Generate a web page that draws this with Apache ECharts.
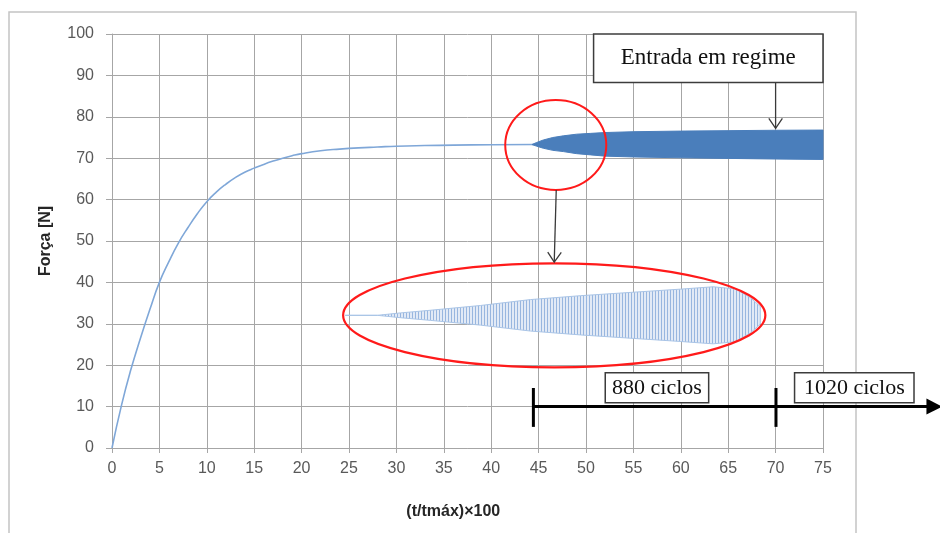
<!DOCTYPE html>
<html><head><meta charset="utf-8">
<script src="https://cdn.jsdelivr.net/npm/echarts@6/dist/echarts.min.js"></script>
<style>html,body{margin:0;padding:0;background:#fff}#c{width:940px;height:533px}</style>
</head><body><div id="c"></div>
<script>
// ---- data ----
const xMin = 0, xMax = 75, xStep = 5;
const yMin = 0, yMax = 100, yStep = 10;

// ramp-up curve (t/tmax*100, Força N)
const curveT = [0,1,2,3,4,5,6,7,8,9,10,11,12,13,14,15,16,17,18,19,20,22,24,26,28,30,33,36,40,44.5];
const curveF = [0,10.3,19,26.5,33.5,40,45,49.5,53.2,56.6,59.5,61.8,63.7,65.3,66.6,67.6,68.5,69.3,70,70.6,71.1,71.8,72.2,72.5,72.7,72.9,73.05,73.15,73.25,73.3];

// oscillation envelope (dense cycles shown as a band)
const bandT     = [44.3,44.8,45.5,46.5,47.6,49,50.5,52,55,60,65,70,75];
const bandUpper = [73.3,73.8,74.4,75.0,75.4,75.8,76.0,76.2,76.4,76.55,76.65,76.75,76.8];
const bandLower = [73.3,72.9,72.4,71.9,71.6,71.1,70.8,70.5,70.3,70.1,69.95,69.8,69.7];

// magnified inset: position along the zoom window (%) and relative amplitude
const insetPos = [0,7.7,13.2,20.4,32.4,44.4,56.4,68.3,80.3,88.2,93.5,97.1,99.5];
const insetAmp = [0,0,0.08,0.17,0.33,0.53,0.66,0.77,0.88,0.96,0.89,0.6,0.3];

// annotation anchors in data coordinates
const focusCircle  = {t:46.81, F:73.19, rt:5.33, rF:10.87};
const insetEllipse = {t:46.65, F:32.05, rt:22.27, rF:12.56};
const insetSpanT   = [24.6, 68.6];
const arrowZoom    = [[46.86,62.3],[46.65,44.9]];
const regimeBox    = {t0:50.8, t1:75.0, F0:100, F1:88.3, text:'Entrada em regime'};
const arrowRegime  = [[70.0,88.3],[70.0,77.2]];
const timelineF = 10.0, timelineT = [44.45, 87.6], timelineTicks = [44.45, 70.04], tickF = [14.5, 5.1];
const cycleBoxes = [
  {t0:52.03, t1:62.94, F0:18.2, F1:10.9, text:'880 ciclos'},
  {t0:72.0,  t1:84.6,  F0:18.2, F1:10.9, text:'1020 ciclos'}
];
const xName = '(t/tmáx)×100', xNameT = 36;
const yName = 'Força [N]';

// ---- chart ----
const pc = document.createElement('canvas');
pc.width = 3; pc.height = 2;
const pctx = pc.getContext('2d');
pctx.fillStyle = '#e2eaf6'; pctx.fillRect(0,0,3,2);
pctx.fillStyle = '#98b6df'; pctx.fillRect(1,0,1,2);

const gridColor = '#a6a6a6';
const labelFont = {color:'#595959', fontSize:16, fontFamily:'Liberation Sans'};

function envelopeSeries(xi, yi, pts, fill, stroke){
  return {
    type:'custom', xAxisIndex:xi, yAxisIndex:yi, z:4,
    data: pts, encode:{x:0, y:[1,2]},
    renderItem: function(params, api){
      if (params.dataIndex !== 0) return null;
      const up = pts.map(p => api.coord([p[0], p[1]]));
      const lo = pts.map(p => api.coord([p[0], p[2]])).reverse();
      return {type:'polygon', shape:{points: up.concat(lo)},
              style:{fill: fill, stroke: stroke, lineWidth:1}};
    }
  };
}

const chart = echarts.init(document.getElementById('c'), null, {renderer:'canvas'});
const option = {
  animation:false,
  grid:[
    {left:112, right:117, top:34, bottom:85},
    {left:345, top:264, width:417, height:104}
  ],
  xAxis:[
    {type:'value', gridIndex:0, min:xMin, max:xMax, interval:xStep,
     axisLine:{show:true, lineStyle:{color:gridColor, width:1}},
     axisTick:{show:true, length:5, lineStyle:{color:gridColor}},
     splitLine:{show:true, lineStyle:{color:gridColor, width:1}},
     axisLabel:Object.assign({margin:13}, labelFont)},
    {type:'value', gridIndex:1, min:0, max:100, show:false}
  ],
  yAxis:[
    {type:'value', gridIndex:0, min:yMin, max:yMax, interval:yStep,
     axisLine:{show:true, lineStyle:{color:gridColor, width:1}},
     axisTick:{show:true, length:6, lineStyle:{color:gridColor}},
     splitLine:{show:true, lineStyle:{color:gridColor, width:1}},
     axisLabel:Object.assign({margin:18}, labelFont),
     name:yName, nameLocation:'middle', nameGap:58, nameRotate:90,
     nameTextStyle:{color:'#262626', fontSize:16, fontWeight:'bold', fontFamily:'Liberation Sans'}},
    {type:'value', gridIndex:1, min:-1.75, max:1.75, show:false}
  ],
  series:[
    {type:'line', xAxisIndex:0, yAxisIndex:0, symbol:'none', smooth:true,
     data:curveT.map((t,i)=>[t,curveF[i]]),
     lineStyle:{color:'#7fa7d8', width:1.6}, z:3},
    envelopeSeries(0, 0, bandT.map((t,i)=>[t, bandUpper[i], bandLower[i]]), '#4a7ebb', '#4a7ebb'),
    envelopeSeries(1, 1, insetPos.map((p,i)=>[p, insetAmp[i], -insetAmp[i]]), {image:pc, repeat:'repeat'}, '#a9c4e6')
  ]
};
chart.setOption(option);

const P = (t,F) => chart.convertToPixel({gridIndex:0}, [t,F]);
const g = [];
// outer frame
g.push({type:'rect', silent:true, z:0, shape:{x:9, y:12, width:847, height:600},
        style:{fill:null, stroke:'#c4c4c4', lineWidth:1.5}});

// inset grid placement from ellipse
const ec = P(insetEllipse.t, insetEllipse.F);
const erx = P(insetEllipse.t + insetEllipse.rt, insetEllipse.F)[0] - ec[0];
const ery = ec[1] - P(insetEllipse.t, insetEllipse.F + insetEllipse.rF)[1];
const iL = P(insetSpanT[0],0)[0], iR = P(insetSpanT[1],0)[0];

// focus circle
const fc = P(focusCircle.t, focusCircle.F);
const frx = P(focusCircle.t + focusCircle.rt, focusCircle.F)[0] - fc[0];
const fry = fc[1] - P(focusCircle.t, focusCircle.F + focusCircle.rF)[1];
g.push({type:'ellipse', z:100, shape:{cx:fc[0], cy:fc[1], rx:frx, ry:fry},
        style:{fill:null, stroke:'#ff1a1a', lineWidth:2}});
g.push({type:'ellipse', z:100, shape:{cx:ec[0], cy:ec[1], rx:erx, ry:ery},
        style:{fill:null, stroke:'#ff1a1a', lineWidth:2.2}});

function openArrow(a, b){
  const p0 = P(a[0],a[1]), p1 = P(b[0],b[1]);
  const ang = Math.atan2(p1[1]-p0[1], p1[0]-p0[0]);
  const L = 12, W = 0.6;
  const h1 = [p1[0]-L*Math.cos(ang-W), p1[1]-L*Math.sin(ang-W)];
  const h2 = [p1[0]-L*Math.cos(ang+W), p1[1]-L*Math.sin(ang+W)];
  g.push({type:'line', z:101, shape:{x1:p0[0], y1:p0[1], x2:p1[0], y2:p1[1]},
          style:{stroke:'#3a3a3a', lineWidth:1.3}});
  g.push({type:'polyline', z:101, shape:{points:[h1,p1,h2]},
          style:{stroke:'#3a3a3a', lineWidth:1.3, fill:null}});
}
openArrow(arrowZoom[0], arrowZoom[1]);
openArrow(arrowRegime[0], arrowRegime[1]);

function textBox(b, fs){
  const a = P(b.t0, b.F0), c = P(b.t1, b.F1);
  g.push({type:'rect', z:102, shape:{x:a[0], y:a[1], width:c[0]-a[0], height:c[1]-a[1]},
          style:{fill:'#fff', stroke:'#3c3c3c', lineWidth:1.5}});
  g.push({type:'text', z:103, x:(a[0]+c[0])/2, y:(a[1]+c[1])/2,
          style:{text:b.text, fill:'#111', font:fs+'px "Liberation Serif"', align:'center', verticalAlign:'middle'}});
}
textBox(regimeBox, 23);

// timeline
const t0 = P(timelineT[0], timelineF), t1 = P(timelineT[1], timelineF);
g.push({type:'line', z:101, shape:{x1:t0[0], y1:t0[1], x2:t1[0]-12, y2:t1[1]},
        style:{stroke:'#000', lineWidth:3}});
g.push({type:'polygon', z:101, shape:{points:[[t1[0],t1[1]],[t1[0]-16,t1[1]-8],[t1[0]-16,t1[1]+8]]},
        style:{fill:'#000'}});
timelineTicks.forEach(tt=>{
  const a = P(tt, tickF[0]), b = P(tt, tickF[1]);
  g.push({type:'line', z:101, shape:{x1:a[0], y1:a[1], x2:b[0], y2:b[1]},
          style:{stroke:'#000', lineWidth:3}});
});
cycleBoxes.forEach(b=>textBox(b, 22));

// x axis name
const xn = P(xNameT, 0);
g.push({type:'text', z:103, x:xn[0], y:xn[1]+64,
        style:{text:xName, fill:'#262626', font:'bold 16px "Liberation Sans"', align:'center', verticalAlign:'middle'}});

chart.setOption({
  grid:[{left:112, right:117, top:34, bottom:85},
        {left:iL, top:ec[1]-ery, width:iR-iL, height:2*ery}],
  graphic:{elements:g}
});
</script>
</body></html>
